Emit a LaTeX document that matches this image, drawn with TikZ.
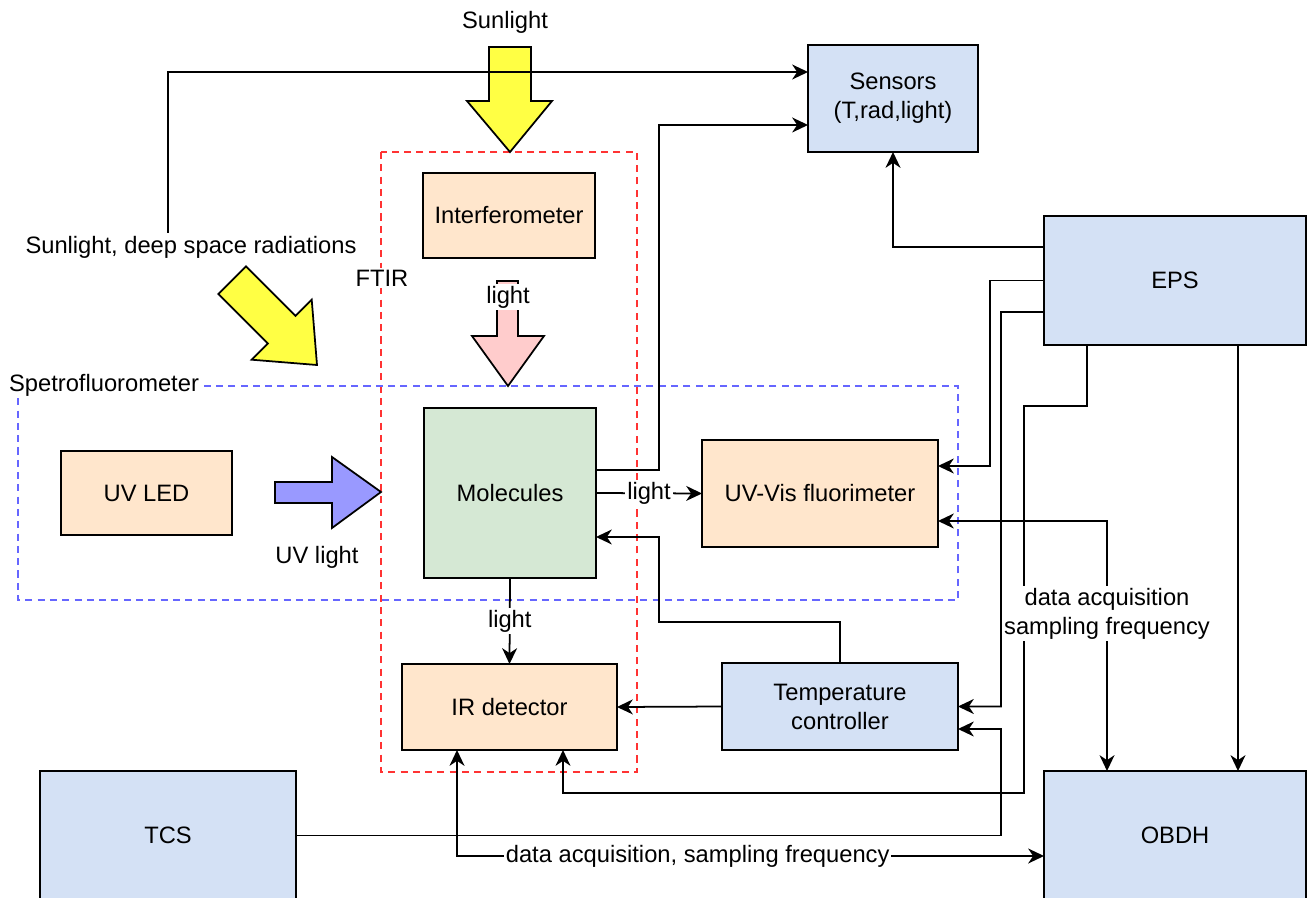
\documentclass[tikz,border=0pt]{standalone}
\usepackage{fontspec}
\setmainfont{Liberation Sans}
\usetikzlibrary{arrows.meta}

\definecolor{blueBox}{HTML}{D4E1F5}
\definecolor{orangeBox}{HTML}{FFE6CC}
\definecolor{greenBox}{HTML}{D5E8D4}
\definecolor{sunYellow}{HTML}{FFFF44}
\definecolor{lightPink}{HTML}{FFCCCC}
\definecolor{uvBlue}{HTML}{9999FF}
\definecolor{ftirRed}{HTML}{FF3333}
\definecolor{specBlue}{HTML}{6666FF}

\begin{document}
\begin{tikzpicture}[
    x=0.02cm, y=-0.02cm,
    font=\fontsize{13.5}{16.5}\selectfont,
    box/.style={draw, line width=1.1pt, rectangle, inner sep=0pt, outer sep=0pt, align=center},
    sub/.style={box, fill=blueBox},
    part/.style={box, fill=orangeBox},
    arrow/.style={-{Stealth[length=9pt, width=8.5pt, inset=2.8pt]}, line width=1pt},
    biarrow/.style={{Stealth[length=9pt, width=8.5pt, inset=2.8pt]}-{Stealth[length=9pt, width=8.5pt, inset=2.8pt]}, line width=1pt},
    tag/.style={fill=white, inner sep=1pt, align=center},
    frame/.style={dash pattern=on 4pt off 3pt, line width=0.9pt},
    blockarrow/.style={draw, line width=1pt, line join=miter}
]
    \useasboundingbox (0,0) rectangle (1308,898);

    % dashed groups
    \draw[frame, ftirRed] (381,152) rectangle (637,772);
    \draw[frame, specBlue] (18,386) rectangle (958,600);

    % blocks
    \node[sub, minimum width=3.4cm, minimum height=2.14cm] (sensors) at (893,98.5) {Sensors\\(T,rad,light)};
    \node[sub, minimum width=5.24cm, minimum height=2.58cm] (eps) at (1175,280.5) {EPS};
    \node[sub, minimum width=5.24cm, minimum height=2.58cm] (obdh) at (1175,835.5) {OBDH};
    \node[sub, minimum width=5.12cm, minimum height=2.58cm] (tcs) at (168,835.5) {TCS};
    \node[sub, minimum width=4.72cm, minimum height=1.74cm] (tc) at (840,706.5) {Temperature\\controller};
    \node[part, minimum width=4.3cm, minimum height=1.72cm] (ird) at (509.5,707) {IR detector};
    \node[box, fill=greenBox, minimum width=3.44cm, minimum height=3.4cm] (mol) at (510,493) {Molecules};
    \node[part, minimum width=4.72cm, minimum height=2.14cm] (uvvis) at (820,493.5) {UV-Vis fluorimeter};
    \node[part, minimum width=3.42cm, minimum height=1.68cm] (uvled) at (146.5,493) {UV LED};
    \node[part, minimum width=3.44cm, minimum height=1.7cm] (interf) at (509,215.5) {Interferometer};

    % light sources
    \node (sun) at (505,22) {Sunlight};
    \draw[blockarrow, fill=sunYellow] (489,47) -- (531,47) -- (531,101) -- (552,101) -- (510,152) -- (467,101) -- (489,101) -- cycle;
    \node (sunrad) at (191,247) {Sunlight, deep space radiations};
    \coordinate (sunTop) at (168,233);
    \begin{scope}[shift={(317,365)}, rotate=-45]
        \draw[blockarrow, fill=sunYellow] (-120,-19.5) -- (-50,-19.5) -- (-50,-42.5) -- (0,0) -- (-50,42.5) -- (-50,19.5) -- (-120,19.5) -- cycle;
    \end{scope}
    \draw[blockarrow, fill=lightPink] (497,281) -- (518,281) -- (518,336) -- (544,336) -- (508,386) -- (472,336) -- (497,336) -- cycle;
    \node[tag] (pinklight) at (508,297) {light};
    \draw[blockarrow, fill=uvBlue] (275,482) -- (332,482) -- (332,457) -- (381,492) -- (332,528) -- (332,503) -- (275,503) -- cycle;
    \node (uvlight) at (317,557) {UV light};

    % group labels
    \node[tag] (ftir) at (382,278) {FTIR};
    \node[tag] (spec) at (104,385) {Spetrofluorometer};

    % connectors
    \draw[arrow] (sunTop) |- ([yshift=0.53cm]sensors.west);
    \draw[arrow] ([yshift=0.46cm]mol.east) -- (659,470) |- ([yshift=-0.53cm]sensors.west);
    \draw[arrow] (mol.east) -- node[tag] {light} (uvvis.west);
    \draw[arrow] (mol.south) -- node[tag] {light} (ird.north);
    \draw[arrow] (tc.north) |- (659,622) |- ([yshift=-0.88cm]mol.east);
    \draw[arrow] (tc.west) -- (ird.east);
    \draw[arrow] ([yshift=0.67cm]eps.west) -| (sensors.south);
    \draw[arrow] (eps.west) -- (990,280.5) |- ([yshift=0.55cm]uvvis.east);
    \draw[arrow] ([yshift=-0.63cm]eps.west) -- (1001,312) |- (tc.east);
    \draw[arrow] ([xshift=-1.76cm]eps.south) |- (1024,406) |- (563,793) -- ([xshift=1.07cm]ird.south);
    \draw[biarrow] ([yshift=-0.55cm]uvvis.east) -| node[tag, pos=0.685] {data acquisition\\sampling frequency} ([xshift=-1.36cm]obdh.north);
    \draw[arrow] ([xshift=1.26cm]eps.south) -- ([xshift=1.26cm]obdh.north);
    \draw[arrow] (tcs.east) -- (1001,835.5) |- ([yshift=-0.45cm]tc.east);
    \draw[biarrow] ([xshift=-1.05cm]ird.south) |- node[tag, pos=0.705] {data acquisition, sampling frequency} ([yshift=-0.41cm]obdh.west);
\end{tikzpicture}
\end{document}
